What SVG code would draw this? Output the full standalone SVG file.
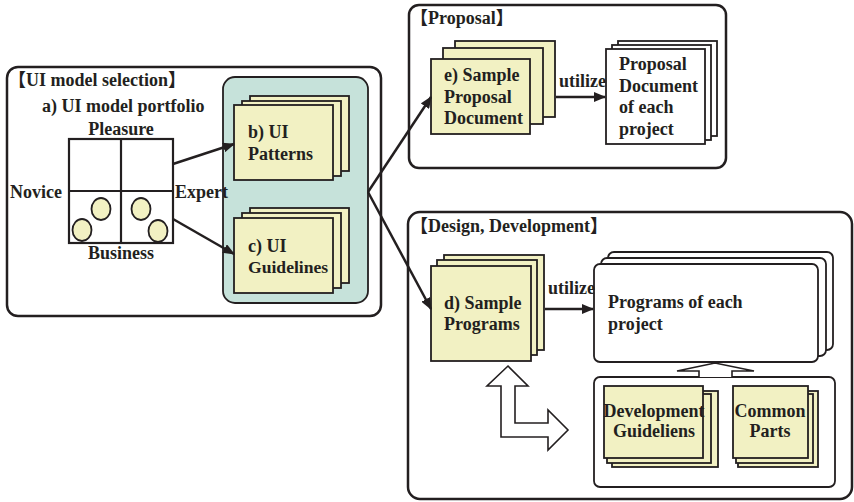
<svg xmlns="http://www.w3.org/2000/svg" width="854" height="502" viewBox="0 0 854 502" font-family="Liberation Serif, Noto Sans CJK JP, serif" font-weight="bold" font-size="18">
<style>
.t{fill:#231f20}
.frame{fill:#fff;stroke:#231f20;stroke-width:2.5}
.doc{fill:#f2f1c3;stroke:#231f20;stroke-width:1.8}
.wdoc{fill:#fff;stroke:#231f20;stroke-width:1.8}
.grid{fill:none;stroke:#231f20;stroke-width:2.2}
.dot{fill:#f2f1c3;stroke:#231f20;stroke-width:1.8}
.conn{fill:none;stroke:#231f20;stroke-width:2.5}
.hollow{fill:#fff;stroke:#231f20;stroke-width:1.6;stroke-linejoin:miter}
.mid{text-anchor:middle}
</style>
<defs>
<marker id="ah" viewBox="0 0 12 10" refX="11" refY="5" markerWidth="12" markerHeight="10" markerUnits="userSpaceOnUse" orient="auto">
<path d="M0,0 L12,5 L0,10 Z" fill="#231f20"/>
</marker>
</defs>

<g id="ui-model-selection">
<rect class="frame" x="7" y="67" width="374" height="249" rx="11"/>
<text class="t" x="8" y="86">【UI model selection】</text>
</g>

<g id="ui-library">
<rect x="223" y="77" width="145" height="226" rx="12" fill="#c6e2da" stroke="#231f20" stroke-width="1.8"/>
</g>

<g id="portfolio">
<text class="t" x="42" y="112">a) UI model portfolio</text>
<text class="t mid" x="121" y="135">Pleasure</text>
<text class="t" x="10" y="198">Novice</text>
<text class="t" x="175" y="198">Expert</text>
<text class="t mid" x="121" y="259">Business</text>
<rect class="grid" x="69" y="139" width="104" height="104"/>
<line class="grid" x1="121" y1="139" x2="121" y2="243"/>
<line class="grid" x1="69" y1="191" x2="173" y2="191"/>
<ellipse class="dot" cx="101" cy="209" rx="9.5" ry="11"/>
<ellipse class="dot" cx="82" cy="230" rx="9.5" ry="11"/>
<ellipse class="dot" cx="141" cy="209" rx="9.5" ry="11"/>
<ellipse class="dot" cx="158" cy="231" rx="9.5" ry="11"/>
</g>

<g id="ui-patterns">
<rect class="doc" x="250" y="96" width="99" height="75"/>
<rect class="doc" x="242" y="101" width="99" height="75"/>
<rect class="doc" x="234" y="105" width="99" height="75"/>
<text class="t" x="248" y="138">b) UI</text>
<text class="t" x="248" y="160">Patterns</text>
</g>

<g id="ui-guidelines">
<rect class="doc" x="250" y="208" width="99" height="75"/>
<rect class="doc" x="242" y="213" width="99" height="75"/>
<rect class="doc" x="234" y="218" width="99" height="75"/>
<text class="t" x="248" y="252">c) UI</text>
<text class="t" x="248" y="273" font-size="17.6">Guidelines</text>
</g>

<g id="proposal">
<rect class="frame" x="409" y="5" width="317" height="163" rx="10"/>
<text class="t" x="410" y="24">【Proposal】</text>
</g>

<g id="sample-proposal">
<rect class="doc" x="455" y="41" width="100" height="76"/>
<rect class="doc" x="443" y="48" width="100" height="76"/>
<rect class="doc" x="431" y="59" width="99" height="75"/>
<text class="t" x="444" y="81">e) Sample</text>
<text class="t" x="444" y="103">Proposal</text>
<text class="t" x="444" y="124">Document</text>
</g>

<g id="proposal-doc">
<rect class="wdoc" x="618" y="41" width="99" height="95"/>
<rect class="wdoc" x="612" y="45" width="99" height="95"/>
<rect class="wdoc" x="606" y="49" width="99" height="95"/>
<text class="t" x="619" y="70">Proposal</text>
<text class="t" x="619" y="92">Document</text>
<text class="t" x="619" y="113">of each</text>
<text class="t" x="619" y="135">project</text>
</g>

<g id="design-development">
<rect class="frame" x="408" y="212" width="444" height="287" rx="12"/>
<text class="t" x="410" y="232">【Design, Development】</text>
</g>

<g id="sample-programs">
<rect class="doc" x="444" y="255" width="100" height="95"/>
<rect class="doc" x="437" y="260" width="100" height="95"/>
<rect class="doc" x="431" y="266" width="100" height="95"/>
<text class="t" x="444" y="309">d) Sample</text>
<text class="t" x="444" y="330">Programs</text>
</g>

<g id="programs">
<rect class="wdoc" x="608" y="252" width="225" height="98" rx="6"/>
<rect class="wdoc" x="601" y="258" width="225" height="98" rx="6"/>
<rect class="wdoc" x="594" y="264" width="224" height="98" rx="6"/>
<text class="t" x="608" y="308">Programs of each</text>
<text class="t" x="608" y="330">project</text>
</g>

<g id="assets">
<rect class="wdoc" x="594" y="377" width="241" height="110" rx="6"/>
</g>

<g id="dev-guidelines">
<rect class="doc" x="612" y="391" width="106" height="76"/>
<rect class="doc" x="607" y="394" width="104" height="69"/>
<rect class="doc" x="604" y="386" width="99" height="72"/>
<text class="t mid" x="654" y="417">Development</text>
<text class="t mid" x="654" y="437">Guideliens</text>
</g>

<g id="common-parts">
<rect class="doc" x="738" y="391" width="80" height="76"/>
<rect class="doc" x="736" y="394" width="77" height="69"/>
<rect class="doc" x="733" y="386" width="75" height="72"/>
<text class="t mid" x="770" y="417">Common</text>
<text class="t mid" x="770" y="437">Parts</text>
</g>

<g id="connectors">
<line class="conn" x1="173" y1="164" x2="234" y2="144" marker-end="url(#ah)"/>
<line class="conn" x1="173" y1="219" x2="234" y2="254" marker-end="url(#ah)"/>
<line class="conn" x1="368" y1="192" x2="431" y2="97" marker-end="url(#ah)"/>
<line class="conn" x1="368" y1="192" x2="431" y2="309" marker-end="url(#ah)"/>
<line class="conn" x1="556" y1="97" x2="605" y2="97" marker-end="url(#ah)"/>
<text class="t" x="559" y="87">utilize</text>
<line class="conn" x1="545" y1="309" x2="593" y2="309" marker-end="url(#ah)"/>
<text class="t" x="548" y="294">utilize</text>
<path class="hollow" d="M699,377 L699,371 L677,371 L715,363 L754,371 L732,371 L732,377"/>
<path class="hollow" d="M508,366 L528,386 L515,386 L515,423 L548,423 L548,410 L568,430 L548,450 L548,437 L501,437 L501,386 L487,386 Z"/>
</g>
</svg>
